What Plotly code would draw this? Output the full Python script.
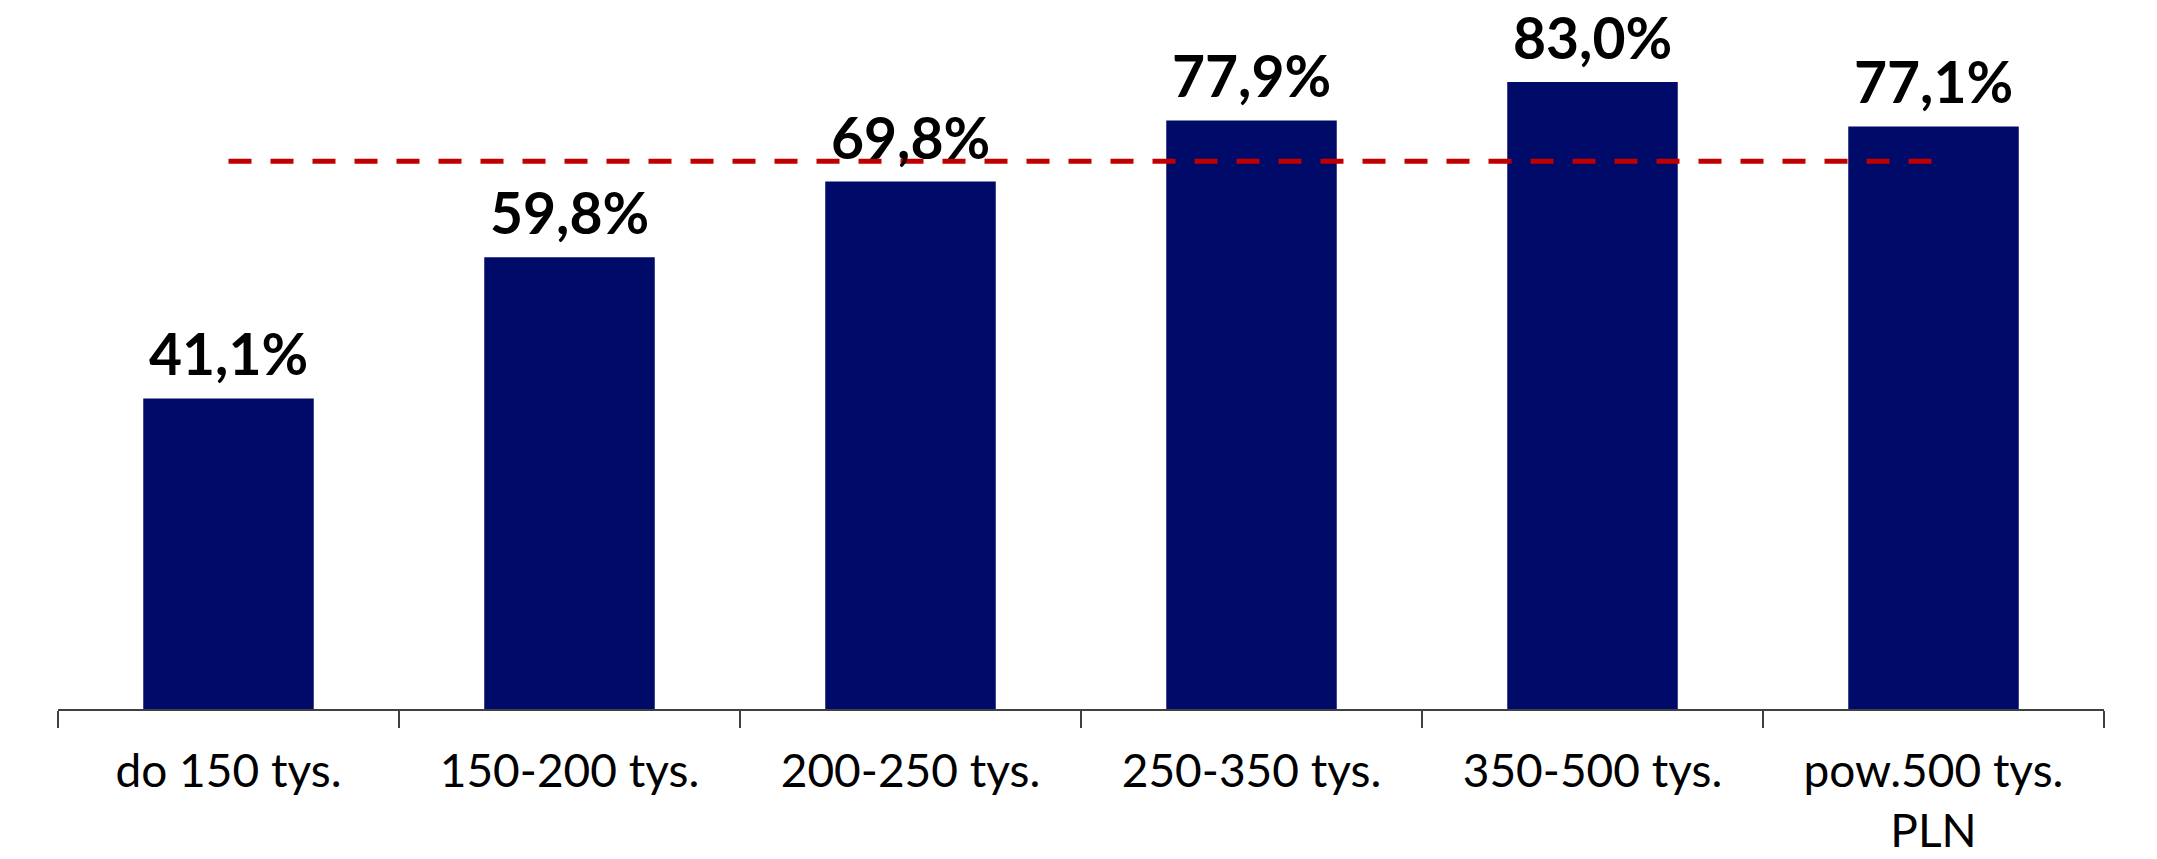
import plotly.graph_objects as go

categories = ["do 150 tys.", "150-200 tys.", "200-250 tys.", "250-350 tys.", "350-500 tys.", "pow.500 tys.<br>PLN"]
values = [41.1, 59.8, 69.8, 77.9, 83.0, 77.1]
labels = ["41,1%", "59,8%", "69,8%", "77,9%", "83,0%", "77,1%"]
average = 72.5

BAR_COLOR = "#000A68"
LINE_COLOR = "#C00000"
FONT = "Lato"

fig = go.Figure()
fig.add_trace(go.Bar(
    x=categories, y=values,
    marker=dict(color=BAR_COLOR, line=dict(width=0)),
    showlegend=False, hoverinfo="skip",
))
fig.add_trace(go.Scatter(
    x=categories, y=[average] * len(categories),
    mode="lines",
    line=dict(color=LINE_COLOR, width=5, dash="23px,19px"),
    showlegend=False, hoverinfo="skip",
))

for c, v, t in zip(categories, values, labels):
    fig.add_annotation(
        x=c, y=v, text=t, showarrow=False,
        xref="x", yref="y", yanchor="middle", yshift=45,
        font=dict(family=FONT, size=57, color="#000000", weight=700),
    )

fig.update_layout(
    width=2157, height=859,
    margin=dict(l=58, r=53, t=29, b=150, autoexpand=False),
    paper_bgcolor="white", plot_bgcolor="white",
    bargap=0.5,
    font=dict(family=FONT, color="#000000"),
    xaxis=dict(
        type="category", range=[-0.5, 5.5], automargin=False,
        showline=True, linecolor="#404040", linewidth=2,
        ticks="outside", tickson="boundaries", ticklen=17, tickwidth=2, tickcolor="#404040",
        ticklabelstandoff=21,
        showgrid=False, zeroline=False,
        tickfont=dict(family=FONT, size=46, color="#000000"),
    ),
    yaxis=dict(
        range=[0, 90], visible=False, automargin=False, showgrid=False, zeroline=False,
    ),
)

fig.write_html(
    "out.html",
    config={"displayModeBar": False},
    post_script="document.body.style.margin='0px';",
)
